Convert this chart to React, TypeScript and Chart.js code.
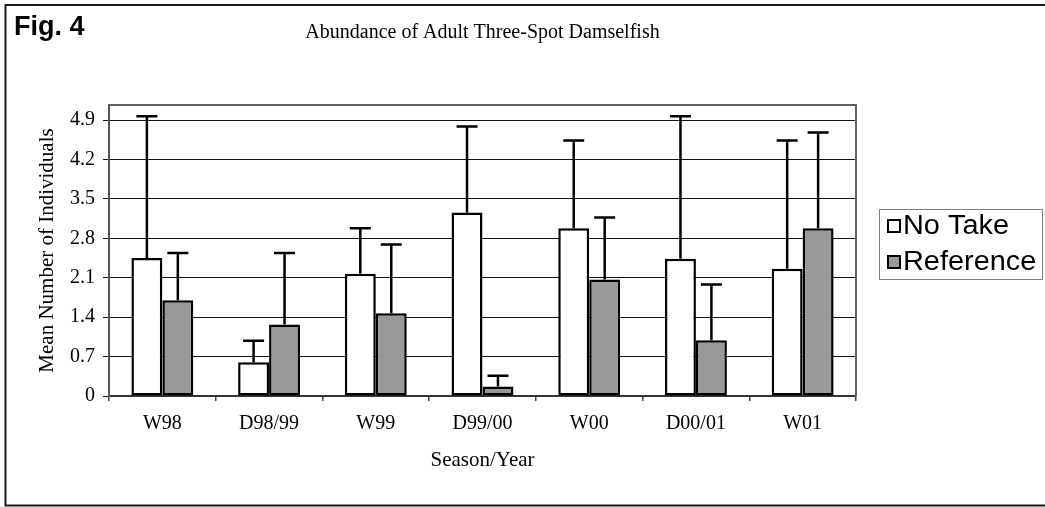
import React, { useEffect, useRef } from 'react';
import { Chart, registerables } from 'chart.js';

Chart.register(...registerables);

// ---- data ----
const categories = ['W98', 'D98/99', 'W99', 'D99/00', 'W00', 'D00/01', 'W01'];
const noTakeMeans = [2.45, 0.6, 2.17, 3.26, 2.98, 2.44, 2.26];
const noTakeErrors = [2.52, 0.38, 0.81, 1.53, 1.56, 2.53, 2.28];
const referenceMeans = [1.7, 1.27, 1.47, 0.17, 2.07, 0.99, 2.98];
const referenceErrors = [0.84, 1.27, 1.22, 0.19, 1.1, 0.99, 1.7];
const yTickValues = [0, 0.7, 1.4, 2.1, 2.8, 3.5, 4.2, 4.9];
const yTickLabels = ['0', '0.7', '1.4', '2.1', '2.8', '3.5', '4.2', '4.9'];
const yAxisMax = 5.17;
const seriesNames = ['No Take', 'Reference'];
const seriesColors = ['#ffffff', '#999999'];
const chartTitle = 'Abundance of Adult Three-Spot Damselfish';
const figLabel = 'Fig. 4';
const xAxisTitle = 'Season/Year';
const yAxisTitle = 'Mean Number of Individuals';

const SERIF = '"Liberation Serif", "Times New Roman", serif';
const SANS = '"Liberation Sans", Arial, sans-serif';

const errorBarPlugin = {
  id: 'errorBars',
  afterDatasetsDraw(chart: any) {
    const ctx = chart.ctx;
    const yScale = chart.scales.y;
    chart.data.datasets.forEach((ds: any, i: number) => {
      const meta = chart.getDatasetMeta(i);
      meta.data.forEach((el: any, j: number) => {
        const topPx = yScale.getPixelForValue(ds.data[j] + ds.errors[j]);
        ctx.save();
        ctx.strokeStyle = '#000';
        ctx.lineWidth = 2.5;
        ctx.beginPath();
        ctx.moveTo(el.x, el.y);
        ctx.lineTo(el.x, topPx);
        ctx.moveTo(el.x - 10.5, topPx);
        ctx.lineTo(el.x + 10.5, topPx);
        ctx.stroke();
        ctx.restore();
      });
    });
  },
};

const decorPlugin = {
  id: 'decor',
  afterDraw(chart: any) {
    const ctx = chart.ctx;
    const area = chart.chartArea;
    ctx.save();
    // plot-area top/right border
    ctx.strokeStyle = '#606060';
    ctx.lineWidth = 2;
    ctx.beginPath();
    ctx.moveTo(area.left, area.top);
    ctx.lineTo(area.right, area.top);
    ctx.lineTo(area.right, area.bottom);
    ctx.stroke();

    // outer frame
    ctx.strokeStyle = '#1a1a1a';
    ctx.lineWidth = 2;
    ctx.beginPath();
    ctx.moveTo(1046, 5);
    ctx.lineTo(5.5, 5);
    ctx.lineTo(5.5, 505.5);
    ctx.lineTo(1046, 505.5);
    ctx.stroke();

    // fig label
    ctx.fillStyle = '#000';
    ctx.font = `bold 27px ${SANS}`;
    ctx.textBaseline = 'alphabetic';
    ctx.textAlign = 'left';
    ctx.fillText(figLabel, 14, 35);

    // title
    ctx.font = `20px ${SERIF}`;
    ctx.textAlign = 'center';
    ctx.textBaseline = 'middle';
    ctx.fillText(chartTitle, (area.left + area.right) / 2, 33);

    // legend
    const lx = 879.5, ly = 209.5, lw = 163, lh = 70;
    ctx.strokeStyle = '#808080';
    ctx.lineWidth = 1;
    ctx.strokeRect(lx, ly, lw, lh);
    const rows = [226, 262];
    seriesNames.forEach((name, i) => {
      const cy = rows[i];
      ctx.fillStyle = seriesColors[i];
      ctx.fillRect(888, cy - 6, 12, 12);
      ctx.strokeStyle = '#000';
      ctx.lineWidth = 2;
      ctx.strokeRect(888, cy - 6, 12, 12);
      ctx.save();
      ctx.fillStyle = '#000';
      ctx.font = `27px ${SANS}`;
      ctx.textAlign = 'left';
      ctx.textBaseline = 'middle';
      ctx.translate(903, cy + 1);
      ctx.scale(1.07, 1);
      ctx.fillText(name, 0, 0);
      ctx.restore();
    });
    ctx.restore();
  },
};

export default function App() {
  const canvasRef = useRef<HTMLCanvasElement>(null);

  useEffect(() => {
    const canvas = canvasRef.current;
    if (!canvas) return;
    const chart = new Chart(canvas, {
      type: 'bar',
      data: {
        labels: categories,
        datasets: [
          {
            label: seriesNames[0],
            data: noTakeMeans,
            errors: noTakeErrors,
            backgroundColor: seriesColors[0],
            borderColor: '#000',
            borderWidth: 2.5,
            borderSkipped: false,
            barPercentage: 1,
            categoryPercentage: 0.58,
          } as any,
          {
            label: seriesNames[1],
            data: referenceMeans,
            errors: referenceErrors,
            backgroundColor: seriesColors[1],
            borderColor: '#000',
            borderWidth: 2.5,
            borderSkipped: false,
            barPercentage: 1,
            categoryPercentage: 0.58,
          } as any,
        ],
      },
      options: {
        responsive: false,
        animation: false,
        devicePixelRatio: 1,
        layout: { padding: { left: 5, right: 189, top: 105, bottom: 5 } },
        plugins: {
          legend: { display: false },
          title: { display: false },
          tooltip: { enabled: false },
        },
        scales: {
          x: {
            grid: {
              display: true,
              drawOnChartArea: false,
              drawTicks: true,
              tickLength: 5,
              color: '#444',
              lineWidth: 1.5,
              offset: true,
            },
            border: { display: true, color: '#333', width: 2 },
            ticks: {
              color: '#000',
              font: { family: SERIF, size: 20 },
              padding: 11,
              maxRotation: 0,
              autoSkip: false,
            },
            title: {
              display: true,
              text: xAxisTitle,
              color: '#000',
              font: { family: SERIF, size: 21 },
              padding: { top: 0, bottom: 29 },
            },
            afterFit: (s: any) => {
              s.height = 106;
            },
          },
          y: {
            min: 0,
            max: yAxisMax,
            afterBuildTicks: (s: any) => {
              s.ticks = yTickValues.map((v) => ({ value: v }));
            },
            grid: { color: '#111', lineWidth: 1, tickLength: 6, drawTicks: true },
            border: { display: true, color: '#555', width: 2 },
            ticks: {
              color: '#000',
              font: { family: SERIF, size: 20 },
              padding: 8,
              callback: (v: any) => {
                const idx = yTickValues.indexOf(Number(v));
                return idx >= 0 ? yTickLabels[idx] : '';
              },
            },
            title: {
              display: true,
              text: yAxisTitle,
              color: '#000',
              font: { family: SERIF, size: 21 },
              padding: { top: 30, bottom: 0 },
            },
            afterFit: (s: any) => {
              s.width = 104;
            },
          },
        },
      } as any,
      plugins: [errorBarPlugin, decorPlugin],
    });
    return () => chart.destroy();
  }, []);

  return (
    <div
      style={{
        position: 'fixed',
        left: 0,
        top: 0,
        width: 1045,
        height: 507,
        background: '#fff',
      }}
    >
      <canvas ref={canvasRef} width={1045} height={507} style={{ display: 'block' }} />
    </div>
  );
}
